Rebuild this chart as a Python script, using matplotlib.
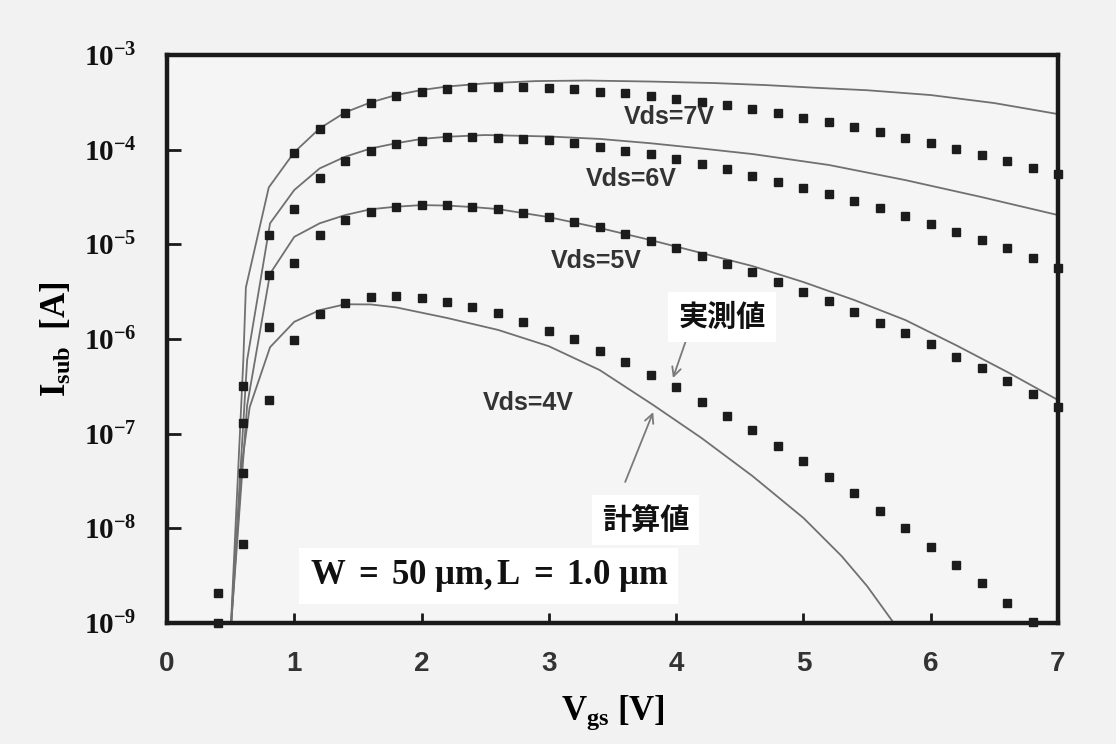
import numpy as np
import matplotlib
matplotlib.use("Agg")
import matplotlib.pyplot as plt

plt.rcParams['mathtext.fontset'] = 'custom'
plt.rcParams['mathtext.rm'] = 'Liberation Serif'
plt.rcParams['mathtext.bf'] = 'Liberation Serif:bold'
plt.rcParams['mathtext.it'] = 'Liberation Serif:italic'
plt.rcParams['axes.unicode_minus'] = False

nan = np.nan

# measured substrate current (squares), Vgs grid shared by all four Vds
vgs = [0.4, 0.6, 0.8, 1.0, 1.2, 1.4, 1.6, 1.8, 2.0, 2.2, 2.4, 2.6, 2.8, 3.0, 3.2, 3.4, 3.6,
       3.8, 4.0, 4.2, 4.4, 4.6, 4.8, 5.0, 5.2, 5.4, 5.6, 5.8, 6.0, 6.2, 6.4, 6.6, 6.8, 7.0]
meas_7 = [2.1e-9, 3.2e-7, 1.26e-5, 9.2e-5, 1.65e-4, 2.42e-4, 3.13e-4, 3.72e-4, 4.09e-4, 4.34e-4,
          4.56e-4, 4.62e-4, 4.62e-4, 4.51e-4, 4.34e-4, 4.09e-4, 3.94e-4, 3.69e-4, 3.40e-4, 3.21e-4,
          2.96e-4, 2.67e-4, 2.42e-4, 2.18e-4, 1.96e-4, 1.75e-4, 1.54e-4, 1.34e-4, 1.19e-4, 1.02e-4,
          8.8e-5, 7.6e-5, 6.45e-5, 5.5e-5]
meas_6 = [1.0e-9, 1.30e-7, 4.74e-6, 2.36e-5, 5.06e-5, 7.6e-5, 9.75e-5, 1.15e-4, 1.24e-4, 1.35e-4,
          1.35e-4, 1.34e-4, 1.30e-4, 1.26e-4, 1.17e-4, 1.06e-4, 9.75e-5, 8.93e-5, 7.97e-5, 7.0e-5,
          6.2e-5, 5.27e-5, 4.59e-5, 3.96e-5, 3.38e-5, 2.87e-5, 2.40e-5, 2.01e-5, 1.64e-5, 1.34e-5,
          1.11e-5, 9.1e-6, 7.1e-6, 5.6e-6]
meas_5 = [nan, 3.84e-8, 1.34e-6, 6.3e-6, 1.26e-5, 1.81e-5, 2.18e-5, 2.50e-5, 2.60e-5, 2.60e-5,
          2.50e-5, 2.38e-5, 2.16e-5, 1.96e-5, 1.73e-5, 1.54e-5, 1.29e-5, 1.08e-5, 9.1e-6, 7.5e-6,
          6.2e-6, 5.1e-6, 4.03e-6, 3.16e-6, 2.50e-6, 1.94e-6, 1.49e-6, 1.15e-6, 8.8e-7, 6.5e-7,
          4.9e-7, 3.63e-7, 2.62e-7, 1.91e-7]
meas_4 = [nan, 6.8e-9, 2.27e-7, 9.8e-7, 1.84e-6, 2.42e-6, 2.76e-6, 2.85e-6, 2.69e-6, 2.48e-6,
          2.19e-6, 1.88e-6, 1.52e-6, 1.22e-6, 1.0e-6, 7.5e-7, 5.7e-7, 4.17e-7, 3.09e-7, 2.18e-7,
          1.55e-7, 1.09e-7, 7.5e-8, 5.1e-8, 3.46e-8, 2.35e-8, 1.52e-8, 1.0e-8, 6.4e-9, 4.1e-9,
          2.63e-9, 1.64e-9, 1.03e-9, nan]

# calculated curves (solid lines)
calc_v7 = [0.50, 0.60, 0.62, 0.80, 1.0, 1.2, 1.4, 1.6, 1.8, 2.0, 2.2, 2.5, 2.9, 3.3, 3.8, 4.3,
           4.7, 5.1, 5.5, 6.0, 6.5, 7.0]
calc_i7 = [8e-10, 6.0e-7, 3.5e-6, 4.0e-5, 9.4e-5, 1.68e-4, 2.48e-4, 3.16e-4, 3.78e-4, 4.27e-4,
           4.65e-4, 5.02e-4, 5.31e-4, 5.38e-4, 5.25e-4, 5.06e-4, 4.82e-4, 4.51e-4, 4.25e-4,
           3.78e-4, 3.11e-4, 2.38e-4]
calc_v6 = [0.50, 0.63, 0.81, 1.0, 1.2, 1.4, 1.6, 1.8, 2.0, 2.2, 2.5, 3.0, 3.4, 3.8, 4.2, 4.6,
           5.2, 5.8, 6.4, 7.0]
calc_i6 = [8e-10, 6.0e-7, 1.67e-5, 3.75e-5, 6.35e-5, 8.43e-5, 1.03e-4, 1.17e-4, 1.30e-4,
           1.37e-4, 1.43e-4, 1.38e-4, 1.30e-4, 1.17e-4, 1.03e-4, 9.0e-5, 6.9e-5, 4.78e-5,
           3.16e-5, 2.04e-5]
calc_v5 = [0.50, 0.63, 0.81, 1.0, 1.2, 1.4, 1.6, 1.8, 2.0, 2.2, 2.4, 2.6, 3.0, 3.4, 3.8, 4.2,
           4.6, 5.0, 5.4, 5.8, 6.2, 6.6, 7.0]
calc_i5 = [8e-10, 2.0e-7, 4.9e-6, 1.2e-5, 1.67e-5, 2.04e-5, 2.35e-5, 2.50e-5, 2.60e-5, 2.57e-5,
           2.48e-5, 2.36e-5, 1.94e-5, 1.49e-5, 1.11e-5, 8.1e-6, 5.9e-6, 4.0e-6, 2.58e-6,
           1.59e-6, 8.6e-7, 4.5e-7, 2.27e-7]
calc_v4 = [0.50, 0.59, 0.65, 0.81, 1.0, 1.2, 1.4, 1.6, 1.8, 2.2, 2.6, 3.0, 3.4, 3.82, 4.2, 4.6,
           5.0, 5.3, 5.5, 5.71, 5.85]
calc_i4 = [8e-10, 4.9e-8, 1.91e-7, 8.2e-7, 1.52e-6, 2.02e-6, 2.33e-6, 2.32e-6, 2.16e-6, 1.67e-6,
           1.25e-6, 8.4e-7, 4.7e-7, 2.01e-7, 9.0e-8, 3.57e-8, 1.29e-8, 5.1e-9, 2.46e-9, 1.0e-9,
           5e-10]

vds_labels = ['Vds=7V', 'Vds=6V', 'Vds=5V', 'Vds=4V']
xticks = [0, 1, 2, 3, 4, 5, 6, 7]
yexp = [-9, -8, -7, -6, -5, -4, -3]

fig = plt.figure(figsize=(11.16, 7.44), dpi=100, facecolor='#f2f2f2')
ax = fig.add_axes([0.1496, 0.1626, 0.7984, 0.7634])
ax.set_facecolor('#f5f5f5')

line_kw = dict(color='#707070', lw=1.3, zorder=2)
for v, i in [(calc_v7, calc_i7), (calc_v6, calc_i6), (calc_v5, calc_i5), (calc_v4, calc_i4)]:
    ax.plot(v, i, **line_kw)

for m in [meas_7, meas_6, meas_5, meas_4]:
    ax.plot(vgs, m, ls='none', marker='s', ms=6.2, color='#1c1c1c', mec='#1c1c1c',
            clip_on=False, zorder=3)

ax.set_yscale('log')
ax.set_xlim(0, 7)
ax.set_ylim(1e-9, 1e-3)
ax.yaxis.set_minor_locator(matplotlib.ticker.NullLocator())

ax.set_xticks(xticks)
ax.set_xticklabels([str(t) for t in xticks], family='Liberation Sans',
                   fontweight='bold', fontsize=20, color='#333333')
ax.set_yticks([10.0 ** e for e in yexp])
ax.set_yticklabels([r'$\mathbf{10^{%d}}$' % e for e in yexp], fontsize=21, color='#111111')
ax.tick_params(axis='x', direction='in', length=7, width=2, pad=20, color='#1a1a1a')
ax.tick_params(axis='y', direction='in', length=10, width=2, pad=22, color='#1a1a1a')
for s in ax.spines.values():
    s.set_linewidth(3.2)
    s.set_color('#1a1a1a')

ax.set_xlabel(r'$\mathbf{V_{gs}}\ \mathbf{[V]}$', fontsize=25, labelpad=12)
ax.set_ylabel(r'$\mathbf{I_{sub}}\ \ \mathbf{[A]}$', fontsize=25, labelpad=8)

# curve labels
txt_kw = dict(fontsize=18, color='#333333', ha='center', va='center', fontweight='bold',
              family='Liberation Sans', zorder=4)
ax.text(3.95, 2.2e-4, vds_labels[0], **txt_kw)
ax.text(3.65, 4.96e-5, vds_labels[1], **txt_kw)
ax.text(3.37, 6.7e-6, vds_labels[2], **txt_kw)
ax.text(2.84, 2.13e-7, vds_labels[3], **txt_kw)

jp_kw = dict(fontsize=21, color='#111111', ha='center', va='center', fontweight='bold',
             family=['Noto Sans CJK JP', 'DejaVu Sans'], zorder=5,
             bbox=dict(boxstyle='square,pad=0.35', fc='white', ec='none'))
arrow = dict(arrowstyle='->', color='#7a7a7a', lw=1.3, shrinkA=0, shrinkB=0,
             mutation_scale=16)
ax.annotate('', xy=(3.975, 3.87e-7), xytext=(4.09, 1.08e-6), arrowprops=arrow, zorder=4)
ax.annotate('', xy=(3.82, 1.69e-7), xytext=(3.60, 3.09e-8), arrowprops=arrow, zorder=4)
ax.text(4.36, 1.71e-6, '実測値', **jp_kw)
ax.text(3.76, 1.22e-8, '計算値', **jp_kw)

ax.text(1.12, 3.14e-9, r'$\mathbf{W\ =\ 50\ \mu m,L\ =\ 1.0\ \mu m}$', fontsize=25,
        ha='left', va='center', color='#111111', zorder=5,
        bbox=dict(boxstyle='square,pad=0.3', fc='white', ec='none'))

fig.savefig('out.png', dpi=100, facecolor=fig.get_facecolor())
